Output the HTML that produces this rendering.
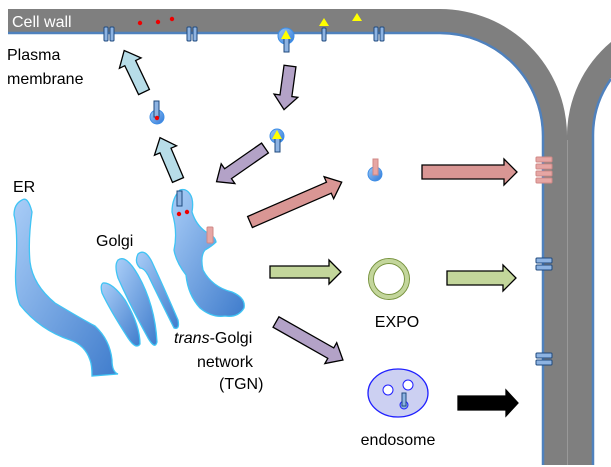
<!DOCTYPE html>
<html><head><meta charset="utf-8"><style>
html,body{margin:0;padding:0;background:#fff;}
svg{display:block;font-family:"Liberation Sans",sans-serif;}
</style></head><body>
<svg width="611" height="467" viewBox="0 0 611 467" xmlns="http://www.w3.org/2000/svg">
<defs>
<linearGradient id="bg" x1="0" y1="0" x2="1" y2="1">
<stop offset="0" stop-color="#a9cdf7"/><stop offset="1" stop-color="#3f7ccc"/></linearGradient>
<linearGradient id="ball" x1="0" y1="0" x2="1" y2="1">
<stop offset="0" stop-color="#9cc8f5"/><stop offset="1" stop-color="#2f78d8"/></linearGradient>
</defs>
<!-- left cell wall -->
<path d="M8,9 L440,9 A127,127 0 0 1 567,136 L567,465 L542,465 L542,136 A102,102 0 0 0 440,34 L8,34 Z" fill="#7f7f7f"/>
<path d="M8,33 L440,33 A103,103 0 0 1 543,136 L543,465" fill="none" stroke="#4f81bd" stroke-width="2.5"/>
<!-- right cell -->
<path d="M611,42 A123,123 0 0 0 567,136 L567,465 L593,465 L593,136 A98,98 0 0 1 611,78 Z" fill="#7f7f7f"/>
<path d="M611,79 A97,97 0 0 0 593,136 L593,465" fill="none" stroke="#4f81bd" stroke-width="2.5"/>
<line x1="567.5" y1="140" x2="567.5" y2="465" stroke="#999" stroke-width="1"/>
<text x="12" y="27" font-size="16" fill="#fff">Cell wall</text>
<!-- membrane proteins top -->
<g fill="#8db3e2" stroke="#1f497d" stroke-width="1">
<rect x="104" y="27" width="4" height="14" rx="1"/><rect x="110" y="27" width="4" height="14" rx="1"/>
<rect x="187" y="27" width="4" height="14" rx="1"/><rect x="193" y="27" width="4" height="14" rx="1"/>
<rect x="374" y="27" width="4" height="14" rx="1"/><rect x="380" y="27" width="4" height="14" rx="1"/>
<rect x="322" y="28" width="4" height="13" rx="1"/>
</g>
<g fill="#e00">
<circle cx="140" cy="23" r="2.2"/><circle cx="158" cy="22" r="2.2"/><circle cx="172" cy="19" r="2.2"/>
</g>
<circle cx="286" cy="36" r="8" fill="url(#ball)" stroke="#3d8ee6"/>
<rect x="284" y="38" width="5" height="14" fill="#8db3e2" stroke="#1f497d" stroke-width="1"/>
<polygon points="286,30 291,39 281,39" fill="#ff0"/>
<polygon points="324,18 329,26 319,26" fill="#ff0"/>
<polygon points="357,13 362,21 352,21" fill="#ff0"/>
<text x="7" y="60" font-size="16" fill="#000">Plasma</text>
<text x="7" y="84" font-size="16" fill="#000">membrane</text>
<!-- arrows -->
<g stroke="#000" stroke-width="1.3">
<g transform="translate(144,92) rotate(-115.5)"><polygon points="0,-6 32,-6 32,-12 46,0 32,12 32,6 0,6" fill="#b7dde8"/></g>
<g transform="translate(178,180) rotate(-113)"><polygon points="0,-6 32,-6 32,-12 46,0 32,12 32,6 0,6" fill="#b7dde8"/></g>
<g transform="translate(290,66) rotate(97.8)"><polygon points="0,-6 30,-6 30,-12 44,0 30,12 30,6 0,6" fill="#b3a2c7"/></g>
<g transform="translate(265,148) rotate(145.2)"><polygon points="0,-6 45,-6 45,-12 59,0 45,12 45,6 0,6" fill="#b3a2c7"/></g>
<g transform="translate(250,222) rotate(-23.5)"><polygon points="0,-6 86,-6 86,-12 100,0 86,12 86,6 0,6" fill="#d99694"/></g>
<g transform="translate(422,172)"><polygon points="0,-7 82,-7 82,-13 95,0 82,13 82,7 0,7" fill="#d99694"/></g>
<g transform="translate(270,272)"><polygon points="0,-6 59,-6 59,-12 71,0 59,12 59,6 0,6" fill="#c3d69b"/></g>
<g transform="translate(447,278)"><polygon points="0,-7 56,-7 56,-13 69,0 56,13 56,7 0,7" fill="#c3d69b"/></g>
<g transform="translate(276,322) rotate(29.6)"><polygon points="0,-6 63,-6 63,-12 77,0 63,12 63,6 0,6" fill="#b3a2c7"/></g>
<g transform="translate(458,403)"><polygon points="0,-7 48,-7 48,-13 60,0 48,13 48,7 0,7" fill="#000"/></g>
</g>
<!-- vesicles -->
<circle cx="157" cy="117" r="7" fill="url(#ball)" stroke="#3d8ee6"/>
<rect x="154" y="101" width="5" height="16" fill="#8db3e2" stroke="#1f497d" stroke-width="1"/>
<circle cx="157" cy="118" r="2.2" fill="#e00"/>
<circle cx="277" cy="136" r="7" fill="url(#ball)" stroke="#3d8ee6"/>
<rect x="275" y="138" width="5" height="14" fill="#8db3e2" stroke="#1f497d" stroke-width="1"/>
<polygon points="277,130 282,139 272,139" fill="#ff0"/>
<circle cx="375" cy="174" r="7" fill="url(#ball)" stroke="#3d8ee6"/>
<rect x="373" y="159" width="5" height="16" fill="#e6a6a4" stroke="#d08886" stroke-width="1"/>
<!-- pink bars on membrane -->
<g fill="#e6a6a4" stroke="#d08886" stroke-width="1">
<rect x="536" y="157" width="16" height="5" rx="1"/><rect x="536" y="164" width="16" height="5" rx="1"/>
<rect x="536" y="171" width="16" height="5" rx="1"/><rect x="536" y="178" width="16" height="5" rx="1"/>
</g>
<g fill="#8db3e2" stroke="#1f497d" stroke-width="1">
<rect x="536" y="258" width="16" height="5" rx="1"/><rect x="536" y="265" width="16" height="5" rx="1"/>
<rect x="536" y="353" width="16" height="5" rx="1"/><rect x="536" y="360" width="16" height="5" rx="1"/>
</g>
<!-- EXPO -->
<circle cx="389" cy="279" r="18" fill="#fff" stroke="#c3d69b" stroke-width="4"/>
<circle cx="389" cy="279" r="20.5" fill="none" stroke="#77933c" stroke-width="1"/>
<circle cx="389" cy="279" r="15.5" fill="none" stroke="#77933c" stroke-width="1"/>
<text x="397" y="327" font-size="16" text-anchor="middle">EXPO</text>
<!-- endosome -->
<ellipse cx="398" cy="393" rx="30" ry="24" fill="#ccd0f2" stroke="#1f1fff" stroke-width="1.3"/>
<circle cx="388" cy="390" r="5" fill="#fff" stroke="#1f1fff"/>
<circle cx="408" cy="385" r="5" fill="#fff" stroke="#1f1fff"/>
<circle cx="404" cy="405" r="4" fill="#8db3e2" stroke="#1f1fff"/>
<rect x="402" y="393" width="4" height="13" fill="#8db3e2" stroke="#1f497d" stroke-width="1"/>
<text x="398" y="445" font-size="16" text-anchor="middle">endosome</text>
<!-- ER -->
<path d="M22,200 Q28,196 32,212 Q28,240 30,262 Q33,285 55,303 Q80,318 95,326 Q110,340 112,360 Q112,372 118,374 L92,376 Q92,365 90,360 Q85,345 70,340 Q40,330 20,305 Q14,290 16,265 Q18,230 14,215 Q14,204 22,200 Z" fill="url(#bg)" stroke="#40c4f4" stroke-width="1.3"/>
<!-- Golgi -->
<g fill="url(#bg)" stroke="#40c4f4" stroke-width="1.3">
<path d="M103,283 Q112,282 125,300 Q140,325 140,344 Q136,350 128,338 Q110,310 102,293 Q100,285 103,283 Z"/>
<path d="M118,260 Q126,254 138,275 Q155,305 157,342 Q155,350 148,338 Q130,305 118,278 Q114,265 118,260 Z"/>
<path d="M138,254 Q145,248 152,262 Q165,290 178,320 Q180,330 174,328 Q160,300 148,275 Q144,268 140,268 Q134,262 138,254 Z"/>
</g>
<!-- TGN -->
<path d="M180,190 Q186,188 190,194 Q194,200 192,212 Q196,225 206,232 Q215,236 216,242 Q212,246 205,250 Q200,256 203,270 Q212,287 232,292 Q246,298 244,308 Q238,318 225,316 Q212,318 200,308 Q188,295 186,275 Q176,262 174,250 Q178,232 172,212 Q172,198 180,190 Z" fill="url(#bg)" stroke="#40c4f4" stroke-width="1.3"/>
<rect x="177" y="191" width="5" height="15" fill="#8db3e2" stroke="#1f497d" stroke-width="1"/>
<circle cx="179" cy="214" r="2.2" fill="#e00"/><circle cx="187" cy="212" r="2.2" fill="#e00"/>
<rect x="207" y="227" width="6" height="16" rx="1" fill="#e6a6a4" stroke="#d08886" stroke-width="1"/>
<!-- labels -->
<text x="13" y="192" font-size="16">ER</text>
<text x="96" y="246" font-size="16">Golgi</text>
<text x="174" y="343" font-size="16"><tspan font-style="italic">trans</tspan>-Golgi</text>
<text x="197" y="367" font-size="16">network</text>
<text x="219" y="389" font-size="16">(TGN)</text>
</svg>
</body></html>
